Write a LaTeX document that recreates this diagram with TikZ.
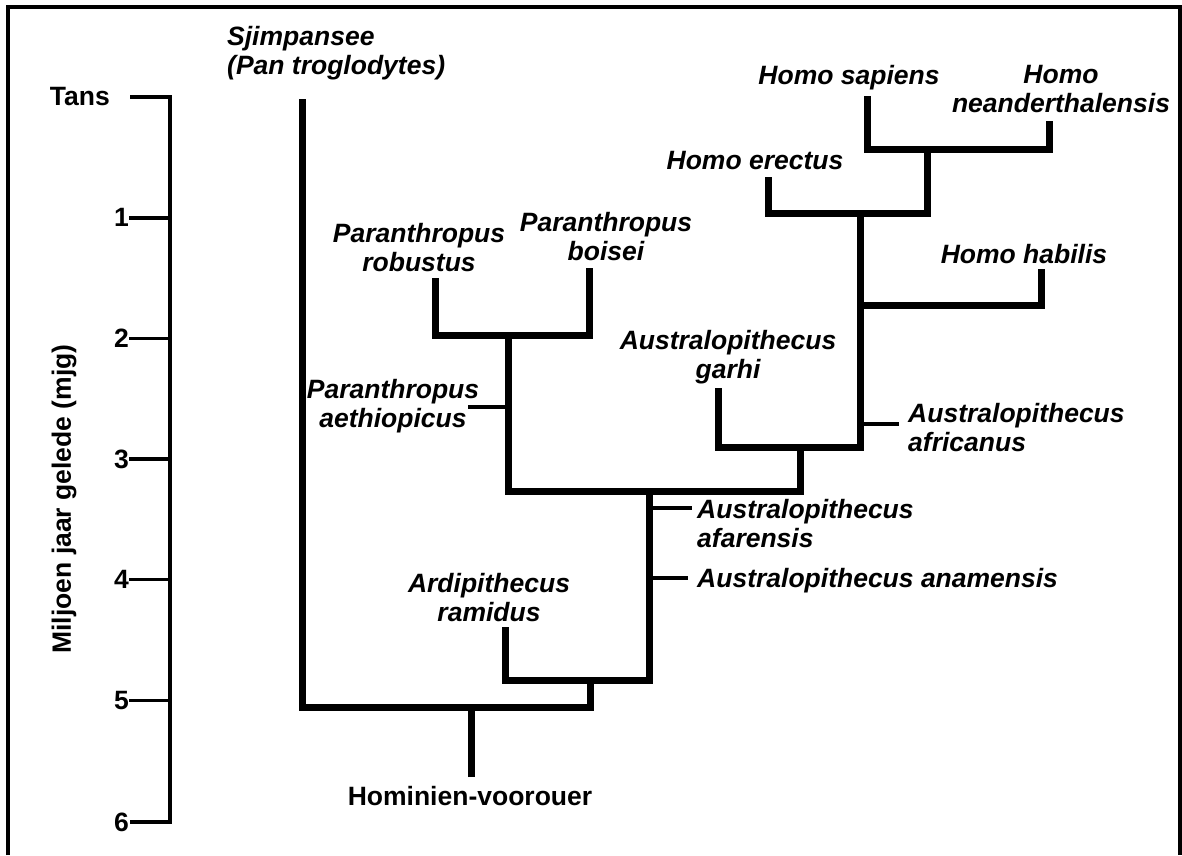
\documentclass[tikz,border=0pt]{standalone}
\usepackage{fontspec}
\setmainfont{Liberation Sans}
\begin{document}
\begin{tikzpicture}[x=1pt,y=-1pt,
  branch/.style={line width=7pt, line join=miter, line cap=butt},
  twig/.style={line width=3.5pt},
  axisline/.style={line width=3.5pt, line join=miter},
  frameline/.style={line width=4pt, line join=miter},
  lab/.style={font=\fontsize{26.5}{29.5}\selectfont\bfseries\itshape, inner sep=0pt, align=center, anchor=north},
  labl/.style={lab, align=left, anchor=north west},
  axlab/.style={font=\fontsize{26.5}{29.5}\selectfont\bfseries, inner sep=0pt, anchor=east}]
\useasboundingbox (0,0) rectangle (1182,855);
% frame
\draw[frameline] (8,855) -- (8,7) -- (1180,7) -- (1180,855);

% time axis
\coordinate (ax0) at (170,97);
\coordinate (ax6) at (170,822);
\node[axlab] (tTans) at (110,97) {Tans};
\node[axlab] (t1) at (129,217.8) {1};
\node[axlab] (t2) at (129,338.3) {2};
\node[axlab] (t3) at (129,459) {3};
\node[axlab] (t4) at (129,579.5) {4};
\node[axlab] (t5) at (129,700.5) {5};
\node[axlab] (t6) at (129,822) {6};
\draw[axisline] (130,97) -- (ax0) -- (ax6) -- (130,822);
\foreach \n in {t1,t2,t3,t4,t5}{\draw[axisline] (\n.east) -- (\n.east -| ax0);}
\node[rotate=90, font=\fontsize{26.5}{29.5}\selectfont\bfseries, inner sep=0pt] (title) at (64,499) {Miljoen jaar gelede (mjg)};

% labels
\node[labl] (chimpL) at (227,26) {Sjimpansee\\(Pan troglodytes)};
\node[lab] (robL) at (419,223) {Paranthropus\\robustus};
\node[lab] (boiL) at (606,212) {Paranthropus\\boisei};
\node[lab] (aethL) at (393,379) {Paranthropus\\aethiopicus};
\node[lab] (ardL) at (489,573) {Ardipithecus\\ramidus};
\node[lab, font=\fontsize{26.5}{29.5}\selectfont\bfseries] (rootL) at (470,786) {Hominien-voorouer};
\node[lab] (garL) at (728,330) {Australopithecus\\garhi};
\node[labl] (afrL) at (908,403) {Australopithecus\\africanus};
\node[labl] (afaL) at (697,499) {Australopithecus\\afarensis};
\node[labl] (anaL) at (697,568) {Australopithecus anamensis};
\node[lab] (ereL) at (755,151) {Homo erectus};
\node[lab] (sapL) at (849,65) {Homo sapiens};
\node[lab] (neaL) at (1061,65) {Homo\\neanderthalensis};
\node[lab] (habL) at (1024,244) {Homo habilis};

% tips and junctions
\coordinate (chimp) at (302,99);
\coordinate (root) at (471,777);
\coordinate (j0) at (471,707);
\coordinate (jA) at (590,707);
\coordinate (jB) at (590,680);
\coordinate (ardi) at (505,627);
\coordinate (jC) at (649,680);
\coordinate (jD) at (649,491);
\coordinate (jP) at (508,335);
\coordinate (jG) at (800,491);
\coordinate (jH) at (800,447);
\coordinate (rob) at (435,278);
\coordinate (boi) at (589,268);
\coordinate (gar) at (718,388);
\coordinate (jI) at (860,447);
\coordinate (jJ) at (860,213);
\coordinate (jK) at (860,305);
\coordinate (hab) at (1041,269);
\coordinate (ere) at (768,177);
\coordinate (jL) at (927,213);
\coordinate (jM) at (927,149);
\coordinate (sap) at (867,96);
\coordinate (nea) at (1049,121);
\coordinate (aethT) at (468,407);
\coordinate (afaT) at (692,508);
\coordinate (anaT) at (688,578);
\coordinate (afrT) at (899,424);

% tree
\draw[branch] (chimp) |- (jA) -- (jB);
\draw[branch] (root) -- (j0);
\draw[branch] (ardi) |- (jC) -- (jD);
\draw[branch] (jP) |- (jG) -- (jH);
\draw[branch] (rob) -- (rob |- jP) -- (boi |- jP) -- (boi);
\draw[branch] (gar) |- (jI) -- (jJ);
\draw[branch] (hab) -- (hab |- jK) -- (jK);
\draw[branch] (ere) |- (jL) -- (jM);
\draw[branch] (sap) -- (sap |- jM) -- (nea |- jM) -- (nea);
% side twigs
\draw[twig] (aethT) -- (aethT -| jP);
\draw[twig] (afaT -| jD) -- (afaT);
\draw[twig] (anaT -| jD) -- (anaT);
\draw[twig] (afrT -| jI) -- (afrT);
\end{tikzpicture}
\end{document}
